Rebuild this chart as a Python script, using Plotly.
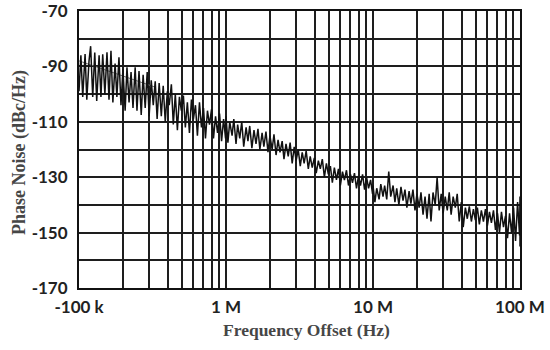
import plotly.graph_objects as go

# frequency mantissas per decade (sample positions)
mant = [1.00, 1.03, 1.06, 1.10, 1.13, 1.17, 1.20, 1.24, 1.28, 1.32, 1.37, 1.41, 1.45, 1.50,
        1.55, 1.60, 1.65, 1.70, 1.76, 1.81, 1.87, 1.93, 1.99, 2.06, 2.12, 2.19, 2.26, 2.33,
        2.41, 2.48, 2.56, 2.65, 2.73, 2.82, 2.91, 3.00, 3.10, 3.20, 3.30, 3.40, 3.51, 3.63,
        3.74, 3.86, 3.99, 4.11, 4.25, 4.38, 4.52, 4.67, 4.82, 4.97, 5.13, 5.29, 5.46, 5.64,
        5.82, 6.00, 6.20, 6.39, 6.60, 6.81, 7.03, 7.25, 7.48, 7.72, 7.97, 8.22, 8.49, 8.76,
        9.04, 9.33, 9.63, 9.93]

# phase noise (dBc/Hz), 100 kHz - 1 MHz
dec1_db = [-99, -86, -101, -85.5, -102, -88, -82.7, -101, -85, -102.5,
           -86, -101, -85.6, -100, -84.9, -102, -84.4, -103, -89, -101,
           -86.7, -104, -91, -106, -90.3, -103, -92, -105, -90.3, -106,
           -91.7, -107.5, -93, -105, -92, -108, -95, -104, -95.4, -109,
           -96, -108, -97, -110, -99, -104, -96.5, -111, -100, -113,
           -101, -106, -100.5, -112, -103, -114, -102, -109, -104, -115,
           -103, -112, -105, -116, -106, -111, -105.5, -116, -108, -114,
           -107, -117, -109, -116]
# 1 MHz - 10 MHz
dec2_db = [-108, -117.5, -110, -115, -109, -118, -111, -116, -110, -119,
           -112, -117, -111.5, -119.5, -113, -118, -112.5, -120, -114, -119,
           -113.5, -121, -115, -120, -114.5, -122, -116.5, -121, -117, -123.5,
           -118, -122.5, -117.5, -125, -119, -124, -120, -126, -121, -125,
           -120.5, -127, -122.5, -126.5, -123, -128.5, -124, -127, -123.5, -130,
           -125, -129, -126, -132, -126.5, -131, -127, -133, -128, -131,
           -127.5, -133, -129, -132, -128.5, -134, -129.5, -133, -129, -134.5,
           -130, -134, -131, -136]
# 10 MHz - 100 MHz
dec3_db = [-133, -139, -134, -138, -132.5, -137, -133, -138, -128, -137,
           -133, -139, -134, -140, -133.5, -138.5, -134.5, -141, -135, -139.5,
           -134.5, -142, -136, -141, -135.5, -143.5, -137, -145, -136, -146,
           -135.5, -140, -130, -142, -136, -143, -137, -142, -135.5, -143.5,
           -137, -141, -136, -146, -139, -148, -141, -145, -140.5, -146,
           -141.5, -145.5, -141, -147, -142, -146, -141.5, -147.5, -142.5, -146.5,
           -142, -149, -143, -150, -142.5, -148, -144, -152, -143, -150,
           -141, -153, -139, -151]
end_freq = [1e8, 1e8]
end_db = [-137, -155]

# faint trend line at the start
trend_freq = [1e5, 3.3e5]
trend_db = [-88, -97.5]

x_tickvals = [1e5, 1e6, 1e7, 1e8]
x_ticktext = ["-100 k", "1 M", "10 M", "100 M"]
y_tickvals = [-170, -160, -150, -140, -130, -120, -110, -100, -90, -80, -70]
y_ticktext = ["-170", "", "-150", "", "-130", "", "-110", "", "-90", "", "-70"]

freq = ([m * 1e5 for m in mant] + [m * 1e6 for m in mant]
        + [m * 1e7 for m in mant] + end_freq)
db = dec1_db + dec2_db + dec3_db + end_db

minor_vals = [k * 10 ** e for e in (5, 6, 7) for k in range(2, 10)]

fig = go.Figure()
fig.add_trace(go.Scatter(x=trend_freq, y=trend_db, mode="lines",
                         line=dict(color="#777777", width=1), showlegend=False))
fig.add_trace(go.Scatter(x=freq, y=db, mode="lines",
                         line=dict(color="#111111", width=1.5), showlegend=False))

grid_col = "#1e1e1e"
tick_font = dict(family="Lato", size=17, color="#222222", weight="bold")

ML, MR, MT, MB = 79, 30, 11, 62

fig.update_layout(
    width=550, height=350,
    margin=dict(l=ML, r=MR, t=MT, b=MB, autoexpand=False),
    paper_bgcolor="white", plot_bgcolor="white",
    xaxis=dict(type="log", range=[5, 8], tickmode="array",
               tickvals=x_tickvals, ticktext=x_ticktext,
               showgrid=True, gridcolor=grid_col, gridwidth=1.6,
               minor=dict(tickmode="array", tickvals=minor_vals, showgrid=True,
                          gridcolor=grid_col, gridwidth=1.6, ticks=""),
               ticks="", tickfont=tick_font, ticklabelstandoff=3, automargin=False,
               ticklabeloverflow="allow",
               showline=True, linecolor="#111111", linewidth=2, mirror=True,
               zeroline=False),
    yaxis=dict(range=[-170, -70], tickmode="array",
               tickvals=y_tickvals, ticktext=y_ticktext,
               showgrid=True, gridcolor=grid_col, gridwidth=1.6,
               ticks="", tickfont=tick_font, ticklabelstandoff=6, automargin=False,
               ticklabeloverflow="allow",
               showline=True, linecolor="#111111", linewidth=2, mirror=True,
               zeroline=False),
    annotations=[
        dict(text="<b>Frequency Offset (Hz)</b>", x=306, y=330, xref="paper", yref="paper",
             showarrow=False, font=dict(family="Liberation Serif", size=17.5, color="#464646")),
        dict(text="<b>Phase Noise (dBc/Hz)</b>", x=19, y=153, xref="paper", yref="paper",
             showarrow=False, textangle=-90,
             font=dict(family="Liberation Serif", size=18, color="#464646")),
    ],
)

# convert annotation pixel positions to paper coords
pw = 550 - ML - MR
ph = 350 - MT - MB
for a in fig.layout.annotations:
    px, py = a.x, a.y
    a.x = (px - ML) / pw
    a.y = 1 - (py - MT) / ph
    a.xanchor = "center"
    a.yanchor = "middle"

fig.write_html("out.html", config={"displayModeBar": False},
               post_script="document.body.style.margin='0';document.body.style.padding='0';")
